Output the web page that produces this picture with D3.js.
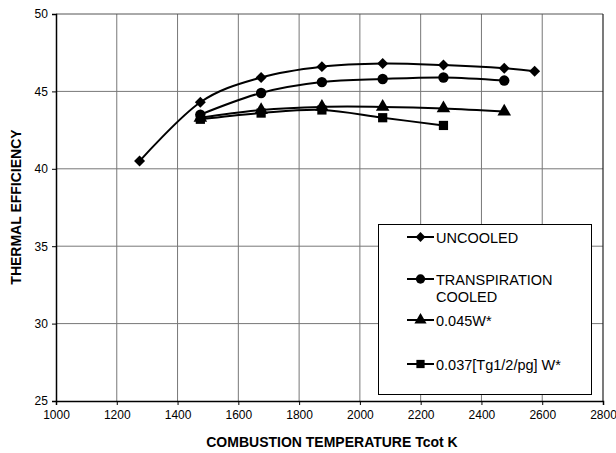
<!DOCTYPE html>
<html><head><meta charset="utf-8">
<script src="https://cdn.jsdelivr.net/npm/d3@7"></script>
<style>body{margin:0;background:#fff}svg{display:block;font-family:Arial,"Liberation Sans",sans-serif}</style>
</head><body><svg id="c" width="616" height="453"></svg>
<script>
const xTicks = [1000,1200,1400,1600,1800,2000,2200,2400,2600,2800];
const yTicks = [25,30,35,40,45,50];
const uncooledX = [1275,1475,1675,1875,2075,2275,2475,2575];
const uncooledY = [40.5,44.3,45.9,46.6,46.8,46.7,46.5,46.3];
const transX = [1475,1675,1875,2075,2275,2475];
const transY = [43.5,44.9,45.6,45.8,45.9,45.7];
const w045X = [1475,1675,1875,2075,2275,2475];
const w045Y = [43.3,43.8,44.0,44.0,43.9,43.7];
const w037X = [1475,1675,1875,2075,2275];
const w037Y = [43.2,43.6,43.8,43.3,42.8];
const seriesNames = ["UNCOOLED","TRANSPIRATION|COOLED","0.045W*","0.037[Tg1/2/pg] W*"];
const symbols = [d3.symbolSquare, d3.symbolCircle, d3.symbolTriangle, d3.symbolSquare];
const symRot = [45, 0, 0, 0];
const symSizes = [60, 85, 80, 85];

const series = [
  {x: uncooledX, y: uncooledY},
  {x: transX, y: transY},
  {x: w045X, y: w045Y},
  {x: w037X, y: w037Y}
];

const svg = d3.select("#c");
const L = 56, R = 603, T = 14, B = 401;
const x = d3.scaleLinear().domain([1000,2800]).range([L,R]);
const y = d3.scaleLinear().domain([25,50]).range([B,T]);

// grid
const g = svg.append("g");
g.selectAll(".vg").data(xTicks.slice(1,-1)).join("line")
  .attr("x1", d=>x(d)).attr("x2", d=>x(d)).attr("y1", T).attr("y2", B)
  .attr("stroke", "#777").attr("stroke-width", 1);
g.selectAll(".hg").data(yTicks.slice(1,-1)).join("line")
  .attr("x1", L).attr("x2", R).attr("y1", d=>y(d)).attr("y2", d=>y(d))
  .attr("stroke", "#777").attr("stroke-width", 1);
// frame
g.append("line").attr("x1",L).attr("x2",R).attr("y1",T).attr("y2",T).attr("stroke","#555");
g.append("line").attr("x1",R).attr("x2",R).attr("y1",T).attr("y2",B).attr("stroke","#222").attr("stroke-width",1.2);

// axes
const xAxis = d3.axisBottom(x).tickValues(xTicks).tickSize(4).tickFormat(d3.format("d"));
const yAxis = d3.axisLeft(y).tickValues(yTicks).tickSize(4);
const xa = svg.append("g").attr("transform",`translate(0,${B})`).call(xAxis);
const ya = svg.append("g").attr("transform",`translate(${L},0)`).call(yAxis);
[xa,ya].forEach(a=>{
  a.select(".domain").attr("stroke","#000").attr("stroke-width",1.5);
  a.selectAll(".tick line").attr("stroke","#000");
  a.selectAll("text").attr("font-size",12).attr("fill","#000").attr("font-family","Arial, 'Liberation Sans', sans-serif");
});
xa.selectAll("text").attr("dy","0.95em");
ya.selectAll("text").attr("dx","-0.1em");

// lines
const line = d3.line().curve(d3.curveCardinal.tension(0));
series.forEach((s,i)=>{
  const pts = s.x.map((v,j)=>[x(v), y(s.y[j])]);
  svg.append("path").attr("d", line(pts)).attr("fill","none")
    .attr("stroke","#000").attr("stroke-width",2);
  svg.append("g").selectAll("path").data(pts).join("path")
    .attr("transform", d=>`translate(${d[0]},${d[1]}) rotate(${symRot[i]})`)
    .attr("d", d3.symbol().type(symbols[i]).size(symSizes[i])).attr("fill","#000");
});

// legend
const lg = svg.append("g");
lg.append("rect").attr("x",378.5).attr("y",224.5).attr("width",213).attr("height",170)
  .attr("fill","#fff").attr("stroke","#000").attr("stroke-width",1);
const legY = [237, 279, 320, 364];
seriesNames.forEach((n,i)=>{
  const yy = legY[i];
  lg.append("line").attr("x1",407).attr("x2",434).attr("y1",yy).attr("y2",yy).attr("stroke","#000").attr("stroke-width",2);
  lg.append("path").attr("transform",`translate(420.5,${yy}) rotate(${symRot[i]})`)
    .attr("d", d3.symbol().type(symbols[i]).size(symSizes[i]*0.8)).attr("fill","#000");
  const parts = n.split("|");
  parts.forEach((p,k)=>{
    lg.append("text").attr("x",436).attr("y",yy+5.5+k*17).attr("font-size",14.5).attr("fill","#000").text(p);
  });
});

// titles
svg.append("text").attr("x",332).attr("y",447).attr("text-anchor","middle")
  .attr("font-size",14).attr("font-weight","bold").text("COMBUSTION TEMPERATURE Tcot K");
svg.append("text").attr("transform","translate(21,207) rotate(-90)").attr("text-anchor","middle")
  .attr("font-size",14).attr("font-weight","bold").text("THERMAL EFFICIENCY");
</script></body></html>
